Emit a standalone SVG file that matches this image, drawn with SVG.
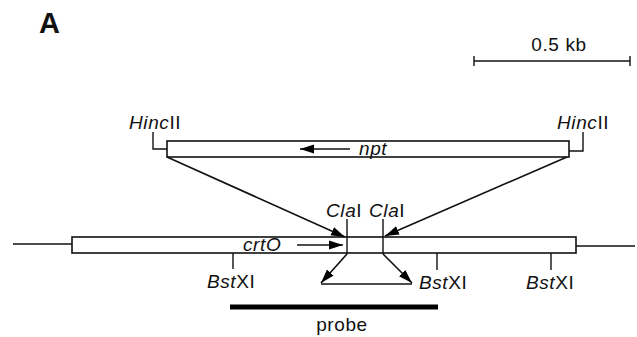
<svg xmlns="http://www.w3.org/2000/svg" width="637" height="337" viewBox="0 0 637 337">
  <defs>
    <marker id="arrL" viewBox="0 0 14 10" refX="14" refY="5" markerWidth="14" markerHeight="10" markerUnits="userSpaceOnUse" orient="auto">
      <path d="M0,0.5 L14,5 L0,9.5 Z" fill="#000"/>
    </marker>
  </defs>
  <style>
    text { font-family: "Liberation Sans", Arial, sans-serif; fill: #111; }
    .lbl { font-size: 19px; letter-spacing: 0.6px; }
    .it { font-style: italic; }
    .box { fill: #fff; stroke: #111; stroke-width: 1.6; }
    .ln { fill: none; stroke: #111; stroke-width: 1.4; }
    .con { fill: none; stroke: #111; stroke-width: 1.6; }
  </style>
  <rect width="637" height="337" fill="#fff"/>

  <!-- panel letter -->
  <text x="39" y="33" font-size="29" font-weight="bold">A</text>

  <!-- scale bar -->
  <g id="scale">
    <line class="ln" x1="474" y1="61" x2="630" y2="61"/>
    <line class="ln" x1="474" y1="56" x2="474" y2="66"/>
    <line class="ln" x1="630" y1="56" x2="630" y2="66"/>
    <text class="lbl" x="559" y="51" text-anchor="middle">0.5 kb</text>
  </g>

  <!-- inserted npt cassette -->
  <g id="npt-cassette">
    <rect class="box" x="167" y="141" width="402" height="16"/>
    <path class="ln" d="M153,132 V149 H167"/>
    <path class="ln" d="M583,132 V151 H569"/>
    <text class="lbl" x="129" y="129"><tspan class="it">Hinc</tspan>II</text>
    <text class="lbl" x="557" y="129"><tspan class="it">Hinc</tspan>II</text>
    <line class="con" x1="350" y1="149" x2="300" y2="149" marker-end="url(#arrL)"/>
    <text class="lbl it" x="359" y="155">npt</text>
  </g>

  <!-- genomic crtO locus -->
  <g id="crtO-locus">
    <line class="ln" x1="13" y1="244" x2="72" y2="244"/>
    <line class="ln" x1="576" y1="246" x2="635" y2="246"/>
    <rect class="box" x="72" y="237" width="504" height="16"/>
    <line class="ln" x1="347" y1="219" x2="347" y2="254"/>
    <line class="ln" x1="383" y1="219" x2="383" y2="254"/>
    <text class="lbl" x="326" y="217"><tspan class="it">Cla</tspan>I</text>
    <text class="lbl" x="369" y="217"><tspan class="it">Cla</tspan>I</text>
    <line class="con" x1="297" y1="245" x2="343" y2="245" marker-end="url(#arrL)"/>
    <text class="lbl it" x="243" y="251">crtO</text>
    <line class="ln" x1="233" y1="253" x2="233" y2="269"/>
    <line class="ln" x1="437" y1="253" x2="437" y2="270"/>
    <line class="ln" x1="551" y1="253" x2="551" y2="270"/>
    <text class="lbl" x="207" y="288"><tspan class="it">Bst</tspan>XI</text>
    <text class="lbl" x="419" y="289"><tspan class="it">Bst</tspan>XI</text>
    <text class="lbl" x="526" y="289"><tspan class="it">Bst</tspan>XI</text>
  </g>

  <!-- deletion fragment -->
  <g id="deletion">
    <line class="ln" x1="321" y1="284" x2="412" y2="284"/>
  </g>

  <!-- probe -->
  <g id="probe">
    <line x1="230" y1="307" x2="438" y2="307" stroke="#000" stroke-width="5"/>
    <text class="lbl" x="342" y="331" text-anchor="middle">probe</text>
  </g>

  <!-- connectors -->
  <g id="connectors">
    <line class="con" x1="167" y1="157" x2="345" y2="237" marker-end="url(#arrL)"/>
    <line class="con" x1="567" y1="157" x2="385" y2="236" marker-end="url(#arrL)"/>
    <line class="con" x1="347" y1="254" x2="321" y2="283" marker-end="url(#arrL)"/>
    <line class="con" x1="383" y1="254" x2="412" y2="283" marker-end="url(#arrL)"/>
  </g>
</svg>
